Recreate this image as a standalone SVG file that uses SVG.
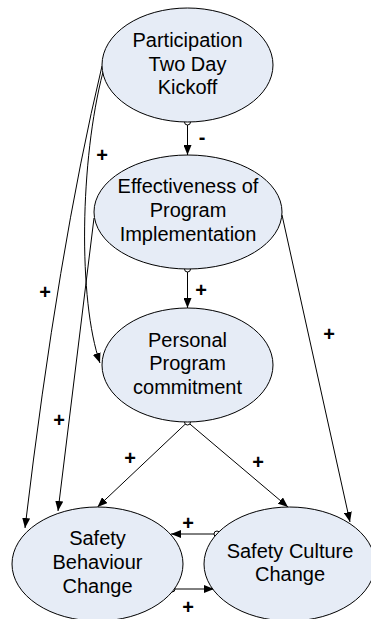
<svg xmlns="http://www.w3.org/2000/svg" width="371" height="619" viewBox="0 0 371 619">
<defs>
<style>
.node ellipse{fill:#e6ecf6;stroke:#000;stroke-width:1}
.node text{font-family:"Liberation Sans",Arial,sans-serif;font-size:20px;fill:#000;text-anchor:middle}
.lbl{font-family:"Liberation Sans",Arial,sans-serif;font-size:20px;font-weight:bold;fill:#000;text-anchor:middle}
.edge{fill:none;stroke:#000;stroke-width:1}
.tail{fill:#fff;stroke:#000;stroke-width:1}
</style>
<marker id="arr" markerUnits="userSpaceOnUse" markerWidth="10" markerHeight="8" refX="10" refY="4" orient="auto">
<path d="M0,0 L10,4 L0,8 z" fill="#000"/>
</marker>
</defs>
<rect width="371" height="619" fill="#fff"/>
<g id="connectors">
<path class="edge" d="M102,66 Q58,250 25,528" marker-end="url(#arr)"/>
<path class="edge" d="M103,72 C80,160 78,300 100,363" marker-end="url(#arr)"/>
<path class="edge" d="M94,218 L58,511" marker-end="url(#arr)"/>
<path class="edge" d="M282,215 L350,522" marker-end="url(#arr)"/>
<path class="edge" d="M187.5,122 L187.5,155" marker-end="url(#arr)"/>
<path class="edge" d="M187.5,269 L187.5,308" marker-end="url(#arr)"/>
<path class="edge" d="M187.5,422 L97.5,507" marker-end="url(#arr)"/>
<path class="edge" d="M187.5,422 L288,507" marker-end="url(#arr)"/>
<path class="edge" d="M217,534 L171,534" marker-end="url(#arr)"/>
<path class="edge" d="M172,589 L214,589" marker-end="url(#arr)"/>
<circle class="tail" cx="187.5" cy="122" r="3"/>
<circle class="tail" cx="187.5" cy="269" r="3"/>
<circle class="tail" cx="187.5" cy="422" r="3"/>
<circle class="tail" cx="217" cy="534" r="3"/>
<circle class="tail" cx="172" cy="589" r="3"/>
<text class="lbl" x="202" y="144">-</text>
<text class="lbl" x="201" y="297">+</text>
<text class="lbl" x="102" y="162">+</text>
<text class="lbl" x="45" y="299">+</text>
<text class="lbl" x="59" y="427">+</text>
<text class="lbl" x="329" y="341">+</text>
<text class="lbl" x="130" y="465">+</text>
<text class="lbl" x="258" y="469">+</text>
<text class="lbl" x="188" y="530">+</text>
<text class="lbl" x="188" y="614">+</text>
</g>
<g id="n-participation" class="node">
<ellipse cx="187.5" cy="65" rx="85.5" ry="57"/>
<text x="187.5" y="47">Participation</text>
<text x="187.5" y="71">Two Day</text>
<text x="187.5" y="94">Kickoff</text>
</g>
<g id="n-effectiveness" class="node">
<ellipse cx="188" cy="212" rx="94" ry="57"/>
<text x="188" y="193">Effectiveness of</text>
<text x="188" y="217">Program</text>
<text x="188" y="241">Implementation</text>
</g>
<g id="n-personal" class="node">
<ellipse cx="187.5" cy="365" rx="85.5" ry="57"/>
<text x="187.5" y="347">Personal</text>
<text x="187.5" y="370">Program</text>
<text x="187.5" y="394">commitment</text>
</g>
<g id="n-behaviour" class="node">
<ellipse cx="97.5" cy="564" rx="85.5" ry="57"/>
<text x="97.5" y="545">Safety</text>
<text x="97.5" y="569">Behaviour</text>
<text x="97.5" y="593">Change</text>
</g>
<g id="n-culture" class="node">
<ellipse cx="289.5" cy="564" rx="85.5" ry="57"/>
<text x="290" y="558">Safety Culture</text>
<text x="290" y="581">Change</text>
</g>
</svg>
